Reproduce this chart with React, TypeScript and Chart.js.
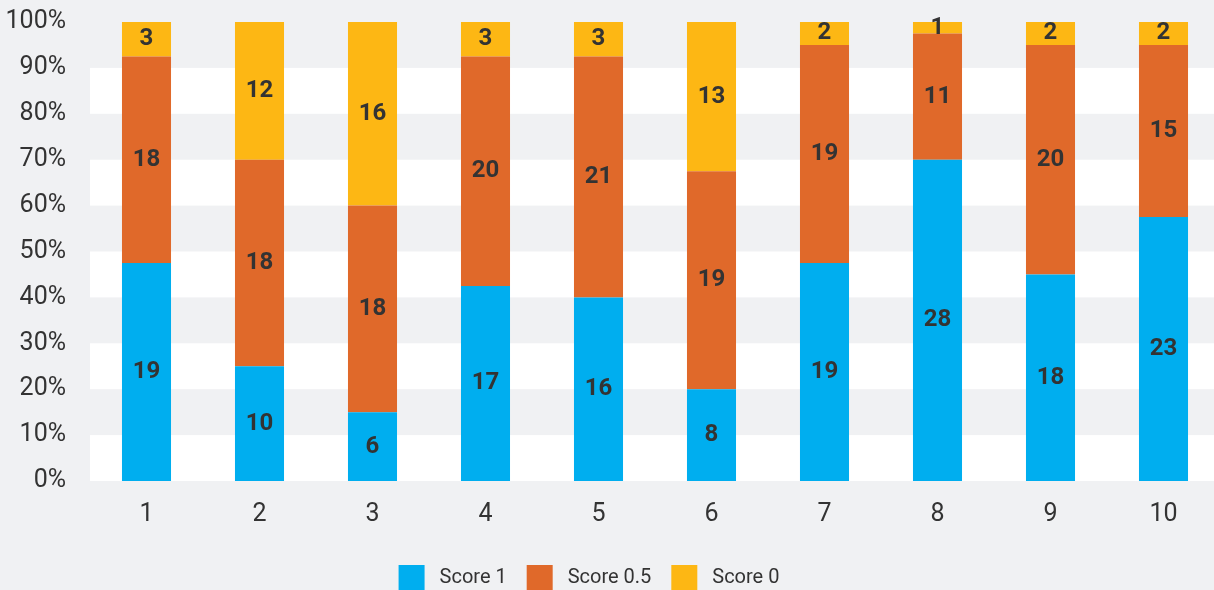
import React, { useEffect, useRef } from "react";
import { Chart, registerables } from "chart.js";

Chart.register(...registerables);

const categories = ["1", "2", "3", "4", "5", "6", "7", "8", "9", "10"];
const score1 = [19, 10, 6, 17, 16, 8, 19, 28, 18, 23];
const score05 = [18, 18, 18, 20, 21, 19, 19, 11, 20, 15];
const score0 = [3, 12, 16, 3, 3, 13, 2, 1, 2, 2];
const seriesNames = ["Score 1", "Score 0.5", "Score 0"];
const seriesColors = ["#00AEEF", "#E0692A", "#FDB714"];
const yTicks = [0, 10, 20, 30, 40, 50, 60, 70, 80, 90, 100];

const BG = "#F0F1F3";
const TEXT = "#333333";

const totals = categories.map((_, i) => score1[i] + score05[i] + score0[i]);
const pct = (arr: number[]) => arr.map((v, i) => (v / totals[i]) * 100);
const rawSeries = [score1, score05, score0];

const bandsPlugin = {
  id: "bands",
  afterLayout(chart: any) {
    const lg = chart.legend;
    if (lg) {
      lg.left -= 21;
      lg.right -= 21;
    }
  },
  beforeDraw(chart: any) {
    const { ctx, chartArea, scales } = chart;
    ctx.save();
    ctx.fillStyle = BG;
    ctx.fillRect(0, 0, chart.width, chart.height);
    ctx.fillStyle = "#FFFFFF";
    const y = scales.y;
    for (let i = 0; i < yTicks.length - 1; i += 2) {
      const top = y.getPixelForValue(yTicks[i + 1]);
      const bot = y.getPixelForValue(yTicks[i]);
      ctx.fillRect(chartArea.left, top, chartArea.right - chartArea.left, bot - top);
    }
    ctx.restore();
  },
};

const labelsPlugin = {
  id: "segLabels",
  afterDatasetsDraw(chart: any) {
    const { ctx } = chart;
    ctx.save();
    ctx.font = "bold 24px Roboto, 'Liberation Sans', sans-serif";
    ctx.fillStyle = TEXT;
    ctx.textAlign = "center";
    ctx.textBaseline = "middle";
    chart.data.datasets.forEach((ds: any, di: number) => {
      const meta = chart.getDatasetMeta(di);
      meta.data.forEach((el: any, i: number) => {
        const v = rawSeries[di][i];
        const yc = (el.y + el.base) / 2;
        ctx.fillText(String(v), el.x, yc);
      });
    });
    ctx.restore();
  },
};

export default function App() {
  const ref = useRef<HTMLCanvasElement>(null);
  useEffect(() => {
    document.body.style.margin = "0";
    document.body.style.overflow = "hidden";
    document.body.style.background = BG;
    const chart = new Chart(ref.current!, {
      type: "bar",
      data: {
        labels: categories,
        datasets: [score1, score05, score0].map((arr, k) => ({
          label: seriesNames[k],
          data: pct(arr),
          backgroundColor: seriesColors[k],
          borderWidth: 0,
          barPercentage: 0.434,
          categoryPercentage: 1,
        })),
      },
      options: {
        responsive: false,
        animation: false,
        layout: { padding: { top: 7, left: 0, right: 0, bottom: 0 } },
        plugins: {
          tooltip: { enabled: false },
          legend: {
            position: "bottom",
            labels: {
              boxWidth: 26,
              boxHeight: 26,
              padding: 20,
              color: TEXT,
              font: { size: 20, family: "Roboto, sans-serif" },
              generateLabels: (c: any) =>
                Chart.defaults.plugins.legend.labels
                  .generateLabels(c)
                  .map((l: any) => ({ ...l, text: " " + l.text, lineWidth: 0 })),
            },
          },
        },
        scales: {
          x: {
            stacked: true,
            grid: { display: false, drawTicks: false },
            border: { display: false },
            ticks: {
              color: TEXT,
              padding: 19,
              font: { size: 25, family: "Roboto, sans-serif" },
            },
            afterFit(scale: any) {
              scale.height = 64;
            },
          },
          y: {
            stacked: true,
            min: 0,
            max: 100,
            grid: { display: false, drawTicks: false },
            border: { display: false },
            afterBuildTicks(scale: any) {
              scale.ticks = yTicks.map((v) => ({ value: v }));
            },
            ticks: {
              color: TEXT,
              padding: 24,
              font: { size: 25, family: "Roboto, sans-serif" },
              callback: (v: any) => v + "%",
            },
            afterFit(scale: any) {
              scale.width = 90;
            },
          },
        },
      },
      plugins: [bandsPlugin, labelsPlugin],
    });
    return () => chart.destroy();
  }, []);
  return (
    <div style={{ width: 1220, height: 601, background: BG, overflow: "hidden" }}>
      <canvas
        ref={ref}
        width={1220}
        height={618}
        style={{ display: "block", marginTop: -17 }}
      />
    </div>
  );
}
